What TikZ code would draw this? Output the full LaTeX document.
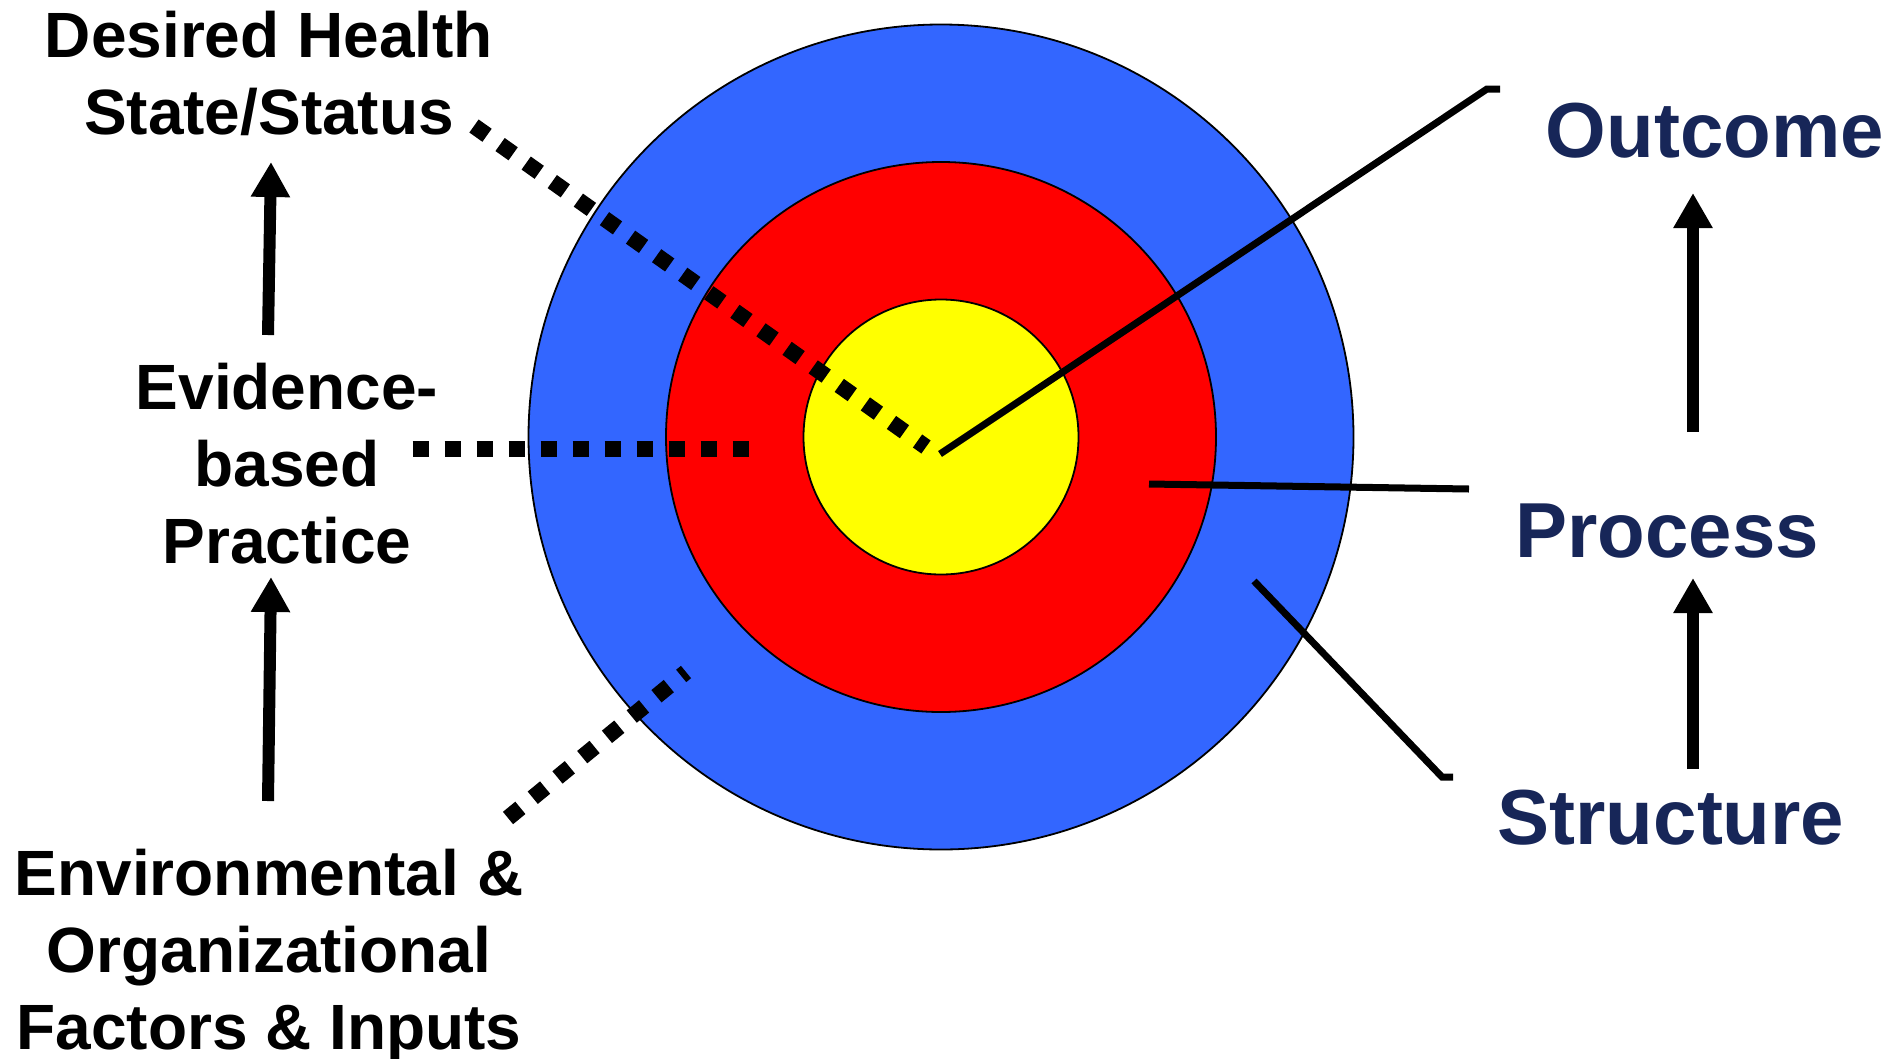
\documentclass[tikz,border=0pt]{standalone}
\usepackage{fontspec}
\setmainfont{Liberation Sans}
\usetikzlibrary{arrows.meta}
\definecolor{tblue}{RGB}{51,102,255}
\definecolor{tred}{RGB}{255,0,0}
\definecolor{tyellow}{RGB}{255,255,0}
\definecolor{navy}{RGB}{23,38,88}
\tikzset{
  ring/.style={draw=black, line width=1.8pt},
  leftlbl/.style={inner sep=0pt, anchor=base, font=\fontsize{64}{77}\selectfont\bfseries, text=black},
  rightlbl/.style={inner sep=0pt, anchor=base, font=\fontsize{78}{94}\selectfont\bfseries, text=navy},
  uparrow/.style={line width=12pt, -{Triangle[width=37pt,length=35pt]}},
  dotline/.style={line width=16pt, dash pattern=on 16pt off 16pt},
  solidline/.style={line width=7pt, line cap=butt, line join=miter}
}
\begin{document}
\begin{tikzpicture}[x=1pt,y=-1pt]
\useasboundingbox (0,0) rectangle (1891,1058);
% target
\coordinate (c) at (941,437);
\fill[tblue, ring] (c) circle (412.5);
\fill[tred, ring] (c) circle (275);
\fill[tyellow, ring] (c) circle (137.5);

% labels left
\node[leftlbl] (desired) at (269,57) {\begin{tabular}[t]{@{}c@{}}Desired Health\\State/Status\end{tabular}};
\node[leftlbl] (ebp) at (287,409) {\begin{tabular}[t]{@{}c@{}}Evidence-\\based\\Practice\end{tabular}};
\node[leftlbl] (env) at (269,895) {\begin{tabular}[t]{@{}c@{}}Environmental \&\\Organizational\\Factors \& Inputs\end{tabular}};

% labels right
\node[rightlbl] (outcome) at (1715,157) {Outcome};
\node[rightlbl] (process) at (1667,557) {Process};
\node[rightlbl] (structure) at (1671,844) {Structure};

% arrows left
\coordinate (a1s) at (268,335);
\coordinate (a1e) at (271,162);
\coordinate (a2s) at (268,801);
\coordinate (a2e) at (271,577);
\draw[uparrow] (a1s) -- (a1e);
\draw[uparrow] (a2s) -- (a2e);

% arrows right
\coordinate (a3s) at (1693,432);
\coordinate (a3e) at (1693,193);
\coordinate (a4s) at (1693,769);
\coordinate (a4e) at (1693,578);
\draw[uparrow] (a3s) -- (a3e);
\draw[uparrow] (a4s) -- (a4e);

% dotted leaders
\coordinate (d1s) at (474,126);
\coordinate (d1e) at (926,447);
\coordinate (d2s) at (412.7,449);
\coordinate (d2e) at (748.7,449);
\coordinate (d3s) at (508,818);
\coordinate (d3e) at (686,672);
\draw[dotline] (d1s) -- (d1e);
\draw[dotline] (d2s) -- (d2e);
\draw[dotline] (d3s) -- (d3e);

% solid leaders
\coordinate (hit) at (940,454);
\coordinate (o1) at (1487,89);
\coordinate (o2) at (1500,89);
\draw[solidline] (hit) -- (o1) -- (o2);
\coordinate (p1) at (1149,484);
\coordinate (p2) at (1469,489);
\draw[solidline] (p1) -- (p2);
\coordinate (s1) at (1254,581);
\coordinate (s2) at (1442,777);
\coordinate (s3) at (1453,777);
\draw[solidline] (s1) -- (s2) -- (s3);
\end{tikzpicture}
\end{document}
